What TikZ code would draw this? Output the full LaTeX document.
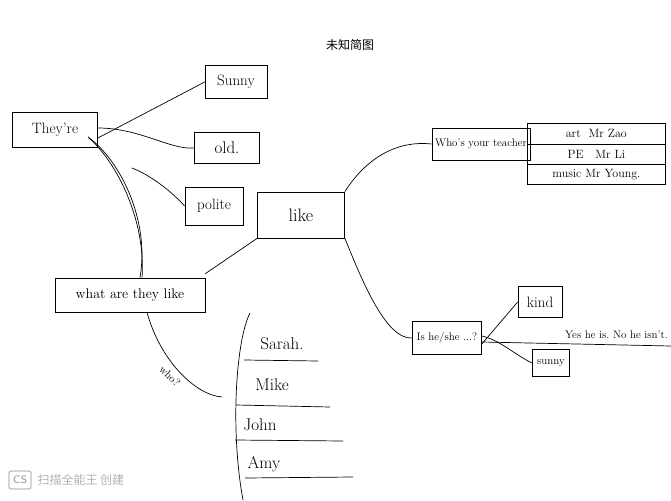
\documentclass[tikz,border=0pt]{standalone}
\usepackage{fontspec}
\newfontfamily\cjk{Noto Sans CJK SC}
\begin{document}
\begin{tikzpicture}[x=1pt,y=-1pt,
  box/.style={draw,line width=0.7pt,inner sep=1pt,font=\fontsize{15}{15}\selectfont},
  conn/.style={line width=0.7pt},
  lbl/.style={font=\fontsize{15}{15}\selectfont}]
\useasboundingbox[fill=white] (0,0) rectangle (671,500);
% title
\node[lbl,font=\cjk\fontsize{12}{12}\selectfont] (title) at (350,45) {未知简图};
% left boxes
\node[box,minimum width=85,minimum height=35] (they) at (55,130) {They're};
\node[box,minimum width=62,minimum height=33] (sunny) at (236,82) {Sunny};
\node[box,minimum width=65,minimum height=31,font=\fontsize{17}{17}\selectfont] (old) at (227,148) {old.};
\node[box,minimum width=58,minimum height=38] (polite) at (214,206) {polite};
\node[box,minimum width=87,minimum height=46,font=\fontsize{18}{18}\selectfont] (like) at (301,215) {like};
\node[box,minimum width=150,minimum height=34,font=\fontsize{14}{14}\selectfont] (what) at (130,295) {what are they like};
% right upper
\node[box,minimum width=98,minimum height=32,font=\fontsize{11}{11}\selectfont] (who) at (481,144) {Who's your teacher};
\node[box,minimum width=138,minimum height=21,anchor=north west,font=\fontsize{12}{12}\selectfont] (art) at (527,123) {art\ \ Mr Zao};
\node[box,minimum width=138,minimum height=20,anchor=north west,font=\fontsize{12}{12}\selectfont] (pe) at (527,144) {PE\ \ \ Mr Li};
\node[box,minimum width=138,minimum height=20,anchor=north west,font=\fontsize{12}{12}\selectfont] (music) at (527,164) {music Mr Young.};
% right lower
\node[box,minimum width=69,minimum height=33,font=\fontsize{11}{11}\selectfont] (is) at (447,338) {Is he/she ...?};
\node[box,minimum width=44,minimum height=31] (kind) at (540,302) {kind};
\node[box,minimum width=37,minimum height=27,font=\fontsize{11}{11}\selectfont] (sunny2) at (551,363) {sunny};
\coordinate (yesend) at (671,346);
\node[lbl,anchor=south east,inner sep=1pt,font=\fontsize{11}{11}\selectfont] (yes) at (669,340) {Yes he is.\ No he isn't.};
% connectors
\draw[conn] ([yshift=-8]they.east) -- (sunny.west);
\draw[conn] ([yshift=2]they.east) .. controls (140,128) and (170,150) .. (old.west);
\coordinate (arcstart) at (88,137);
\draw[conn] (arcstart) .. controls (120,160) and (150,220) .. ([xshift=10]what.north);
\draw[conn] (arcstart) .. controls (118,163) and (146,222) .. ([xshift=12]what.north);
\coordinate (pstart) at (132,168);
\draw[conn] (pstart) .. controls (150,175) and (170,190) .. (polite.west);
\draw[conn] ([yshift=4]what.north east) -- (like.south west);
\draw[conn] (like.north east) .. controls (365,160) and (395,140) .. (who.west);
\draw[conn] (like.south east) .. controls (360,275) and (385,340) .. (is.west);
\draw[conn] ([yshift=-6]is.east) -- (kind.west);
\draw[conn] ([yshift=2]is.east) .. controls (500,340) and (515,355) .. (sunny2.west);
\draw[conn] ([yshift=-4]is.east) -- (yesend);
% names
\coordinate (brtop) at (250,313);
\coordinate (brbot) at (243,500);
\draw[conn] (brtop) .. controls (236,340) and (230,430) .. (brbot);
\node[lbl,font=\fontsize{17}{17}\selectfont] (sarah) at (282,344) {Sarah.};
\node[lbl,font=\fontsize{17}{17}\selectfont] (mike) at (272,385) {Mike};
\node[lbl,font=\fontsize{17}{17}\selectfont] (john) at (260,425) {John};
\node[lbl,font=\fontsize{17}{17}\selectfont] (amy) at (264,464) {Amy};
\coordinate (s1) at (244,360); \coordinate (s2) at (318,361);
\coordinate (m1) at (236,405); \coordinate (m2) at (330,407);
\coordinate (j1) at (235,440); \coordinate (j2) at (343,441);
\coordinate (a1) at (245,478); \coordinate (a2) at (353,477);
\draw[conn] (s1) -- (s2);
\draw[conn] (m1) -- (m2);
\draw[conn] (j1) -- (j2);
\draw[conn] (a1) -- (a2);
% who? connector
\coordinate (whoend) at (222,397);
\draw[conn] ([xshift=17]what.south) .. controls (160,360) and (195,395) .. (whoend);
\node[lbl,rotate=-45,font=\fontsize{11}{11}\selectfont] (wholbl) at (170,376) {who?};
% watermark
\node[draw=gray!50,fill=white,rounded corners=2pt,line width=1.2pt,text=gray!60,font=\sffamily\bfseries\fontsize{11}{11}\selectfont,minimum width=22,minimum height=18,inner sep=1pt] (cs) at (20,480) {CS};
\node[anchor=west,text=gray!60,font=\cjk\fontsize{12}{12}\selectfont] (wm) at (34,480) {扫描全能王\ 创建};
\end{tikzpicture}
\end{document}
